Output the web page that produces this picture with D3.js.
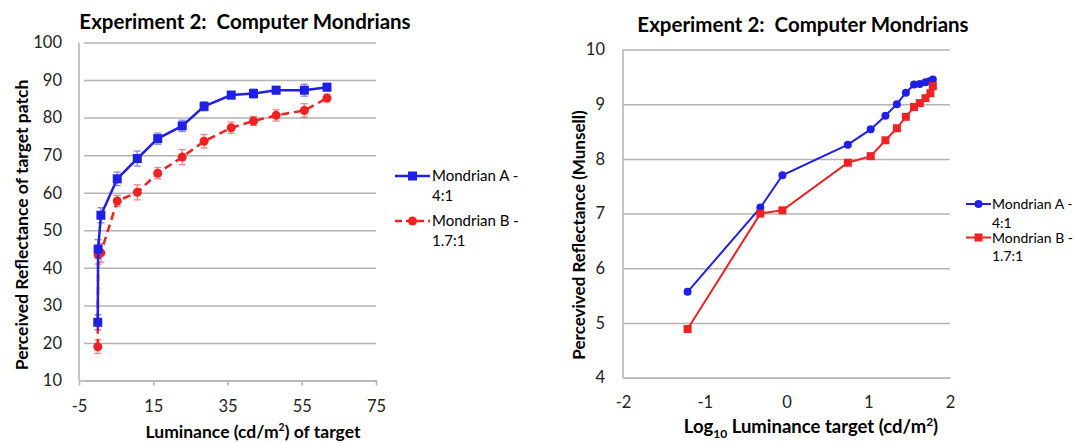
<!DOCTYPE html>
<html>
<head>
<meta charset="utf-8">
<script src="https://cdn.jsdelivr.net/npm/d3@7"></script>
<style>
  body { margin: 0; background: #fff; }
  svg { display: block; font-family: Lato, "Open Sans", sans-serif; }
  .pre { white-space: pre; }
</style>
</head>
<body>
<div id="graph-div"></div>
<script>
// left chart: luminance (cd/m2) vs perceived reflectance (%)
const luminance = [0.05, 0.15, 0.9, 5.3, 10.7, 16.2, 22.8, 28.7, 36.0, 42.0, 48.1, 55.7, 61.8];
const mondrianA = [25.5, 45.0, 54.0, 63.7, 69.1, 74.4, 77.8, 83.0, 86.0, 86.4, 87.3, 87.3, 88.1];
const mondrianAErr = [2.0, 2.5, 2.0, 1.8, 2.0, 1.5, 1.5, 1.2, 1.0, 1.2, 1.0, 1.6, 1.0];
const mondrianB = [19.0, 43.5, 44.0, 57.8, 60.1, 65.2, 69.5, 73.7, 77.3, 79.1, 80.6, 81.9, 85.2];
const mondrianBErr = [1.8, 2.5, 2.5, 1.5, 2.0, 1.5, 2.0, 1.8, 1.5, 1.2, 1.5, 1.8, 1.0];

// right chart: log10 luminance vs Munsell value
const logLumA = [-1.21, -0.32, -0.05, 0.75, 1.03, 1.21, 1.35, 1.46, 1.56, 1.63, 1.70, 1.75, 1.79];
const munsellA = [5.57, 7.11, 7.70, 8.26, 8.54, 8.79, 9.00, 9.21, 9.36, 9.37, 9.40, 9.42, 9.45];
const logLumB = [-1.21, -0.32, -0.05, 0.75, 1.03, 1.21, 1.35, 1.46, 1.56, 1.63, 1.70, 1.76, 1.79];
const munsellB = [4.89, 7.00, 7.06, 7.93, 8.05, 8.34, 8.56, 8.77, 8.95, 9.02, 9.11, 9.20, 9.33];

const leftXTicks = [-5, 15, 35, 55, 75];
const leftYTicks = [10, 20, 30, 40, 50, 60, 70, 80, 90, 100];
const rightXTicks = [-2, -1, 0, 1, 2];
const rightYTicks = [4, 5, 6, 7, 8, 9, 10];

const title = 'Experiment 2:  Computer Mondrians';
const legendA = ['Mondrian A -', '4:1'];
const legendB = ['Mondrian B -', '1.7:1'];

const blue = '#1f1fe6';
const red = '#ee2222';
const grid = '#b3b3b3';
const tickFont = 16.5;

const w = 1075;
const h = 443;

const svg = d3.select('#graph-div')
  .append('svg')
  .attr('width', w)
  .attr('height', h);

const styleTicks = g => g.selectAll('.tick text')
  .attr('font-size', tickFont).attr('fill', '#222').attr('font-family', 'Lato, sans-serif');

// ---------- left chart ----------
const xL = d3.scaleLinear().domain([-5, 75]).range([79, 376]);
const yL = d3.scaleLinear().domain([10, 100]).range([380.5, 42.5]);

const left = svg.append('g');

left.append('g')
  .attr('transform', 'translate(79,0)')
  .call(d3.axisLeft(yL).tickValues(leftYTicks).tickFormat(d => String(d))
    .tickSize(-297).tickSizeOuter(0).tickPadding(17))
  .call(g => g.select('.domain').remove())
  .call(g => g.selectAll('.tick line').attr('stroke', grid).attr('stroke-width', 1.5).attr('x1', 5))
  .call(styleTicks);

left.append('g')
  .attr('transform', 'translate(0,380.5)')
  .call(d3.axisBottom(xL).tickValues(leftXTicks).tickFormat(d => String(d))
    .tickSize(5).tickSizeOuter(0).tickPadding(15))
  .call(g => g.select('.domain').attr('stroke', grid).attr('stroke-width', 1.5))
  .call(g => g.selectAll('.tick line').attr('stroke', grid).attr('stroke-width', 1.5))
  .call(styleTicks);

left.append('line')
  .attr('x1', 79).attr('x2', 79)
  .attr('y1', yL(100)).attr('y2', yL(10))
  .attr('stroke', grid).attr('stroke-width', 1.5);

const lineL = (ys) => d3.line().x((d, i) => xL(luminance[i])).y(d => yL(d))(ys);

const errBars = (g, ys, errs, color) => {
  const eb = g.append('g').attr('stroke', color).attr('stroke-width', 1.3).attr('opacity', 0.55);
  ys.forEach((v, i) => {
    const x = xL(luminance[i]);
    eb.append('line').attr('x1', x).attr('x2', x).attr('y1', yL(v - errs[i])).attr('y2', yL(v + errs[i]));
    eb.append('line').attr('x1', x - 3.5).attr('x2', x + 3.5).attr('y1', yL(v - errs[i])).attr('y2', yL(v - errs[i]));
    eb.append('line').attr('x1', x - 3.5).attr('x2', x + 3.5).attr('y1', yL(v + errs[i])).attr('y2', yL(v + errs[i]));
  });
};

// Mondrian B (red, dashed, circles)
left.append('path')
  .attr('d', lineL(mondrianB))
  .attr('fill', 'none').attr('stroke', red).attr('stroke-width', 2.5)
  .attr('stroke-dasharray', '8,5');
errBars(left, mondrianB, mondrianBErr, red);
left.selectAll('.ptB')
  .data(mondrianB)
  .enter()
  .append('circle')
  .attr('cx', (d, i) => xL(luminance[i]))
  .attr('cy', d => yL(d))
  .attr('r', 4.5)
  .attr('fill', red);

// Mondrian A (blue, solid, squares)
left.append('path')
  .attr('d', lineL(mondrianA))
  .attr('fill', 'none').attr('stroke', blue).attr('stroke-width', 2.5);
errBars(left, mondrianA, mondrianAErr, blue);
left.selectAll('.ptA')
  .data(mondrianA)
  .enter()
  .append('rect')
  .attr('x', (d, i) => xL(luminance[i]) - 4.5)
  .attr('y', d => yL(d) - 4.5)
  .attr('width', 9).attr('height', 9)
  .attr('fill', blue);

left.append('text')
  .attr('class', 'pre')
  .attr('x', 245).attr('y', 28.5)
  .attr('text-anchor', 'middle')
  .attr('font-size', 20.5).attr('font-weight', 'bold')
  .text(title);

left.append('text')
  .attr('transform', 'translate(28,225) rotate(-90)')
  .attr('text-anchor', 'middle')
  .attr('font-size', 17.5).attr('font-weight', 'bold')
  .text('Perceived Reflectance of target patch');

const xTitleL = left.append('text')
  .attr('x', 253).attr('y', 438)
  .attr('text-anchor', 'middle')
  .attr('font-size', 17.5).attr('font-weight', 'bold');
xTitleL.append('tspan').text('Luminance (cd/m');
xTitleL.append('tspan').attr('dy', -7).attr('font-size', 10.5).text('2');
xTitleL.append('tspan').attr('dy', 7).text(') of target');

// legend left
const legL = left.append('g').attr('font-size', 15);
legL.append('line').attr('x1', 395).attr('x2', 430).attr('y1', 176).attr('y2', 176)
  .attr('stroke', blue).attr('stroke-width', 2.5);
legL.append('rect').attr('x', 408).attr('y', 171.5).attr('width', 9).attr('height', 9).attr('fill', blue);
legL.append('text').attr('x', 432).attr('y', 181).text(legendA[0]);
legL.append('text').attr('x', 432).attr('y', 200.5).text(legendA[1]);
legL.append('line').attr('x1', 395).attr('x2', 430).attr('y1', 221).attr('y2', 221)
  .attr('stroke', red).attr('stroke-width', 2.5).attr('stroke-dasharray', '7,4');
legL.append('circle').attr('cx', 412.5).attr('cy', 221).attr('r', 4.5).attr('fill', red);
legL.append('text').attr('x', 432).attr('y', 226).text(legendB[0]);
legL.append('text').attr('x', 432).attr('y', 245.5).text(legendB[1]);

// ---------- right chart ----------
const xR = d3.scaleLinear().domain([-2, 2]).range([623, 950]);
const yR = d3.scaleLinear().domain([4, 10]).range([377.7, 49.5]);

const right = svg.append('g');

right.append('g')
  .attr('transform', 'translate(623,0)')
  .call(d3.axisLeft(yR).tickValues(rightYTicks).tickFormat(d => String(d))
    .tickSize(-327).tickSizeOuter(0).tickPadding(18))
  .call(g => g.select('.domain').remove())
  .call(g => g.selectAll('.tick line').attr('stroke', grid).attr('stroke-width', 1.5))
  .call(styleTicks);

right.append('g')
  .attr('transform', 'translate(0,377.7)')
  .call(d3.axisBottom(xR).tickValues(rightXTicks).tickFormat(d => String(d))
    .tickSize(0).tickSizeOuter(0).tickPadding(19))
  .call(g => g.select('.domain').attr('stroke', grid).attr('stroke-width', 1.5))
  .call(styleTicks);

right.append('line')
  .attr('x1', 623).attr('x2', 623)
  .attr('y1', yR(10)).attr('y2', yR(4))
  .attr('stroke', grid).attr('stroke-width', 1.5);

right.append('path')
  .attr('d', d3.line().x((d, i) => xR(logLumA[i])).y(d => yR(d))(munsellA))
  .attr('fill', 'none').attr('stroke', blue).attr('stroke-width', 2);
right.append('path')
  .attr('d', d3.line().x((d, i) => xR(logLumB[i])).y(d => yR(d))(munsellB))
  .attr('fill', 'none').attr('stroke', red).attr('stroke-width', 2);

right.selectAll('.rA')
  .data(munsellA)
  .enter()
  .append('circle')
  .attr('cx', (d, i) => xR(logLumA[i]))
  .attr('cy', d => yR(d))
  .attr('r', 4)
  .attr('fill', blue);

right.selectAll('.rB')
  .data(munsellB)
  .enter()
  .append('rect')
  .attr('x', (d, i) => xR(logLumB[i]) - 4)
  .attr('y', d => yR(d) - 4)
  .attr('width', 8).attr('height', 8)
  .attr('fill', red);

right.append('text')
  .attr('class', 'pre')
  .attr('x', 803).attr('y', 31.5)
  .attr('text-anchor', 'middle')
  .attr('font-size', 20.5).attr('font-weight', 'bold')
  .text(title);

right.append('text')
  .attr('transform', 'translate(585,235) rotate(-90)')
  .attr('text-anchor', 'middle')
  .attr('font-size', 17).attr('font-weight', 'bold')
  .text('Percevived Reflectance (Munsell)');

const xTitleR = right.append('text')
  .attr('x', 811).attr('y', 433)
  .attr('text-anchor', 'middle')
  .attr('font-size', 18.5).attr('font-weight', 'bold');
xTitleR.append('tspan').text('Log');
xTitleR.append('tspan').attr('dy', 5).attr('font-size', 12).text('10');
xTitleR.append('tspan').attr('dy', -5).text(' Luminance target (cd/m');
xTitleR.append('tspan').attr('dy', -7).attr('font-size', 12).text('2');
xTitleR.append('tspan').attr('dy', 7).text(')');

// legend right
const legR = right.append('g').attr('font-size', 14);
legR.append('line').attr('x1', 966).attr('x2', 991).attr('y1', 204).attr('y2', 204)
  .attr('stroke', blue).attr('stroke-width', 2);
legR.append('circle').attr('cx', 978.5).attr('cy', 204).attr('r', 4).attr('fill', blue);
legR.append('text').attr('x', 992).attr('y', 209).text(legendA[0]);
legR.append('text').attr('x', 992).attr('y', 227.5).text(legendA[1]);
legR.append('line').attr('x1', 966).attr('x2', 991).attr('y1', 237.5).attr('y2', 237.5)
  .attr('stroke', red).attr('stroke-width', 2);
legR.append('rect').attr('x', 974.5).attr('y', 233.5).attr('width', 8).attr('height', 8).attr('fill', red);
legR.append('text').attr('x', 992).attr('y', 242.5).text(legendB[0]);
legR.append('text').attr('x', 992).attr('y', 261).text(legendB[1]);
</script>
</body>
</html>
